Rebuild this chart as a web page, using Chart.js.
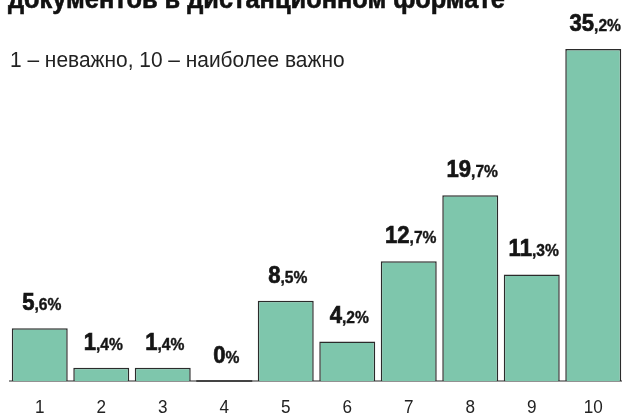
<!DOCTYPE html>
<html>
<head>
<meta charset="utf-8">
<script src="https://cdn.jsdelivr.net/npm/chart.js@4/dist/chart.umd.min.js"></script>
<style>
  html, body { margin: 0; padding: 0; background: #fff; overflow: hidden; }
  #wrap { position: relative; width: 626px; height: 416px; }
</style>
</head>
<body>
<div id="wrap">
  <canvas id="chart" width="626" height="416"></canvas>
</div>
<script>
var categories = ['1', '2', '3', '4', '5', '6', '7', '8', '9', '10'];
var values = [5.6, 1.4, 1.4, 0, 8.5, 4.2, 12.7, 19.7, 11.3, 35.2];
var valueLabels = ['5,6%', '1,4%', '1,4%', '0%', '8,5%', '4,2%', '12,7%', '19,7%', '11,3%', '35,2%'];
var titleText = 'документов в дистанционном формате';
var subtitleText = '1 – неважно, 10 – наиболее важно';

var face = '"Liberation Sans", Arial, sans-serif';

// draw text squeezed horizontally to mimic a condensed face
function narrowText(ctx, text, x, y, font, sx, align, heavy) {
  ctx.save();
  ctx.font = font;
  var w = ctx.measureText(text).width * sx;
  var left = x;
  if (align === 'center') left = x - w / 2;
  ctx.translate(left, y);
  ctx.scale(sx, 1);
  ctx.textAlign = 'left';
  ctx.fillText(text, 0, 0);
  if (heavy) {
    ctx.strokeStyle = ctx.fillStyle;
    ctx.lineWidth = heavy;
    ctx.strokeText(text, 0, 0);
  }
  ctx.restore();
  return w;
}

var decorPlugin = {
  id: 'decor',
  beforeDatasetsDraw: function(chart) {
    var ctx = chart.ctx, area = chart.chartArea;
    ctx.save();
    ctx.strokeStyle = '#6e6e6e';
    ctx.lineWidth = 1.5;
    ctx.beginPath();
    ctx.moveTo(area.left, area.bottom);
    ctx.lineTo(area.right, area.bottom);
    ctx.stroke();
    // title (cut off by the top edge) and subtitle
    ctx.fillStyle = '#111';
    narrowText(ctx, titleText, 8, 8, 'bold 27px ' + face, 0.94, 'left', 0.6);
    ctx.fillStyle = '#222';
    narrowText(ctx, subtitleText, 10, 67, '22px ' + face, 0.95, 'left');
    ctx.restore();
  },
  afterDatasetsDraw: function(chart) {
    var ctx = chart.ctx, area = chart.chartArea;
    var meta = chart.getDatasetMeta(0);
    var xScale = chart.scales.x;
    ctx.save();
    ctx.textBaseline = 'alphabetic';
    meta.data.forEach(function(bar, i) {
      var x = xScale.getPixelForValue(i);
      if (values[i] === 0) {
        ctx.strokeStyle = '#2b2b2b';
        ctx.lineWidth = 1.5;
        ctx.beginPath();
        ctx.moveTo(bar.x - bar.width / 2, area.bottom);
        ctx.lineTo(bar.x + bar.width / 2, area.bottom);
        ctx.stroke();
      }
      ctx.fillStyle = '#222';
      narrowText(ctx, categories[i], x, area.bottom + 32, '18px ' + face, 0.95, 'center');

      // value label: integer part big, the rest smaller
      var txt = valueLabels[i];
      var cut = txt.indexOf(',');
      if (cut < 0) cut = txt.indexOf('%');
      var big = txt.slice(0, cut), small = txt.slice(cut);
      var bigFont = 'bold 24px ' + face, smallFont = 'bold 17px ' + face;
      var sx = 0.92;
      ctx.font = bigFont;
      var wb = ctx.measureText(big).width * sx;
      ctx.font = smallFont;
      var ws = ctx.measureText(small).width * sx;
      var left = x + 2 - (wb + ws) / 2;
      var y = bar.y - 18;
      ctx.fillStyle = '#151515';
      narrowText(ctx, big, left, y, bigFont, sx, 'left', 0.7);
      narrowText(ctx, small, left + wb, y, smallFont, sx, 'left', 0.4);
    });
    ctx.restore();
  }
};

new Chart(document.getElementById('chart'), {
  type: 'bar',
  data: {
    labels: categories,
    datasets: [{
      data: values,
      backgroundColor: '#7ec6ac',
      borderColor: '#2b2b2b',
      borderWidth: 1.5,
      categoryPercentage: 1.0,
      barPercentage: 0.91
    }]
  },
  options: {
    responsive: false,
    animation: false,
    layout: { padding: { top: 49, bottom: 35, left: 9, right: 2 } },
    scales: {
      x: { display: false },
      y: { display: false, min: 0, max: 35.2 }
    },
    plugins: {
      legend: { display: false },
      tooltip: { enabled: false }
    }
  },
  plugins: [decorPlugin]
});
</script>
</body>
</html>
